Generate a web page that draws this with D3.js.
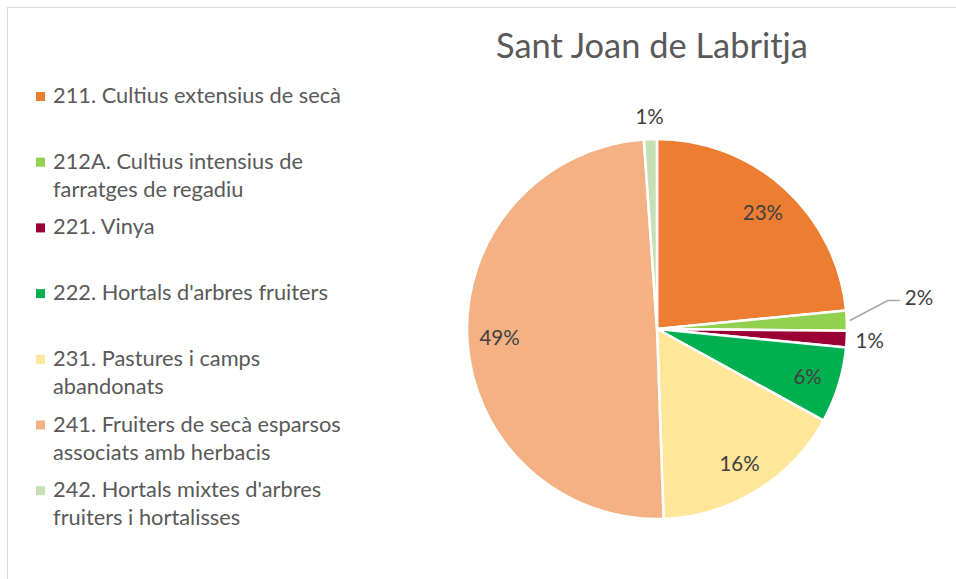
<!DOCTYPE html>
<html>
<head>
<meta charset="utf-8">
<script src="https://cdn.jsdelivr.net/npm/d3@7"></script>
<style>
  body { margin: 0; background: #fff; }
  svg { display: block; font-family: Lato, "Open Sans", sans-serif; }
</style>
</head>
<body>
<svg id="chart" width="956" height="579"></svg>
<script>
// land use categories (legend order = slice order, clockwise from 12 o'clock)
const categories = [
  "211. Cultius extensius de secà",
  "212A. Cultius intensius de farratges de regadiu",
  "221. Vinya",
  "222. Hortals d'arbres fruiters",
  "231. Pastures i camps abandonats",
  "241. Fruiters de secà esparsos associats amb herbacis",
  "242. Hortals mixtes d'arbres fruiters i hortalisses"
]
// legend text as it wraps in the picture
const legendLines = [
  ["211. Cultius extensius de secà"],
  ["212A. Cultius intensius de", "farratges de regadiu"],
  ["221. Vinya"],
  ["222. Hortals d'arbres fruiters"],
  ["231. Pastures i camps", "abandonats"],
  ["241. Fruiters de secà esparsos", "associats amb herbacis"],
  ["242. Hortals mixtes d'arbres", "fruiters i hortalisses"]
]
const shares = [23.45, 1.7, 1.4, 6.45, 16.45, 49.45, 1.1]
const colors = ["#ED7D31", "#92D050", "#9B0034", "#00B050", "#FFE699", "#F4B183", "#C5E0B4"]
// where each percent label sits: in the slice, just outside, or with a leader line
const labelModes = ["inside", "callout", "outside", "inside", "inside", "inside", "outside"]

const svg = d3.select("#chart")
const W = 956, H = 579

// chart area border (only top and left edges are visible in the frame)
svg.append("rect")
   .attr("x", 7.5).attr("y", 7.5)
   .attr("width", W).attr("height", H)
   .attr("fill", "none")
   .attr("stroke", "#d9d9d9")
   .attr("stroke-width", 1)

svg.append("text")
   .attr("x", 652).attr("y", 58)
   .attr("text-anchor", "middle")
   .attr("fill", "#595959")
   .attr("font-size", 34.4)
   .text("Sant Joan de Labritja")

const cx = 657, cy = 329, R = 190
const pieG = svg.append("g").attr("transform", `translate(${cx},${cy})`)

const total = d3.sum(shares)
const pie = d3.pie().sort(null).value(d => d)
const arcs = pie(shares)
const arc = d3.arc().innerRadius(0).outerRadius(R)

pieG.selectAll("path.slice")
    .data(arcs)
    .join("path")
    .attr("class", "slice")
    .attr("d", arc)
    .attr("fill", (d, i) => colors[i])
    .attr("stroke", "#fff")
    .attr("stroke-width", 2.5)
    .attr("stroke-linejoin", "round")

const pct = d3.format(".0%")
const mid = d => (d.startAngle + d.endAngle) / 2
const polar = (a, r) => [r * Math.sin(a), -r * Math.cos(a)]
const labelSize = 20.5

arcs.forEach((d, i) => {
  const a = mid(d)
  const mode = labelModes[i]
  const txt = pct(d.value / total)
  if (mode === "inside") {
    const [x, y] = polar(a, R * 0.83)
    pieG.append("text")
        .attr("x", x).attr("y", y)
        .attr("text-anchor", "middle")
        .attr("dominant-baseline", "central")
        .attr("fill", "#404040")
        .attr("font-size", labelSize)
        .text(txt)
  } else if (mode === "outside") {
    const [x, y] = polar(a, R + 23)
    pieG.append("text")
        .attr("x", x).attr("y", y)
        .attr("text-anchor", "middle")
        .attr("dominant-baseline", "central")
        .attr("fill", "#404040")
        .attr("font-size", labelSize)
        .text(txt)
  } else {
    // leader line: out of the slice, up and right, then flat
    const p0 = polar(a, R + 3)
    const p1 = [p0[0] + 38, p0[1] - 20]
    const p2 = [p1[0] + 12, p1[1]]
    pieG.append("polyline")
        .attr("points", [p0, p1, p2].map(p => p.join(",")).join(" "))
        .attr("fill", "none")
        .attr("stroke", "#a6a6a6")
        .attr("stroke-width", 1.5)
    pieG.append("text")
        .attr("x", p2[0] + 5).attr("y", p2[1] - 4)
        .attr("dominant-baseline", "central")
        .attr("fill", "#404040")
        .attr("font-size", labelSize)
        .text(txt)
  }
})

// legend: equal slots, first line of each entry at top of slot
const legendTop = 103, slot = 65.7, lineH = 28
const legend = svg.append("g")
const items = legend.selectAll("g.item")
  .data(categories)
  .join("g")
  .attr("class", "item")
  .attr("transform", (d, i) => `translate(0,${legendTop + i * slot})`)

items.append("rect")
     .attr("x", 36).attr("y", -11)
     .attr("width", 9).attr("height", 9)
     .attr("fill", (d, i) => colors[i])

items.append("text")
     .attr("x", 53)
     .attr("fill", "#595959")
     .attr("font-size", 21.8)
     .selectAll("tspan")
     .data((d, i) => legendLines[i])
     .join("tspan")
     .attr("x", 53)
     .attr("y", (d, j) => j * lineH)
     .text(d => d)
</script>
</body>
</html>
